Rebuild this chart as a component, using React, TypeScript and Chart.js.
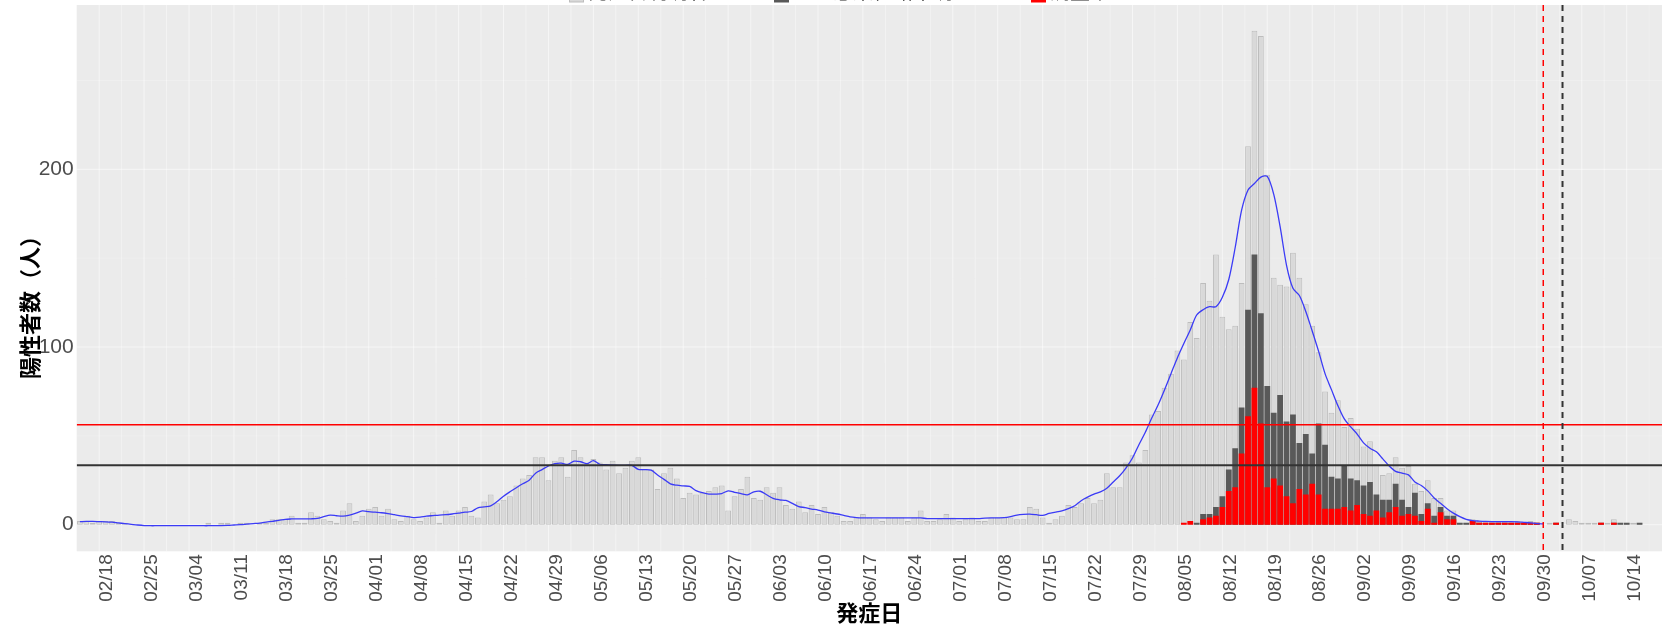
import React, { useEffect, useRef } from 'react';
import { Chart, registerables } from 'chart.js';

Chart.register(...registerables);

// ---- categories: one bar per onset day, 2021-02-15 .. 2021-10-19 ----
const firstDay = '2021-02-15';
const dayCount = 247;
const dayLabels: string[] = (() => {
  const out: string[] = [];
  const d0 = new Date(firstDay + 'T00:00:00Z');
  for (let i = 0; i < dayCount; i++) {
    const d = new Date(d0.getTime() + i * 86400000);
    out.push(String(d.getUTCMonth() + 1).padStart(2, '0') + '/' + String(d.getUTCDate()).padStart(2, '0'));
  }
  return out;
})();

// weekly tick labels on the x axis
const xTickLabels = ['02/18', '02/25', '03/04', '03/11', '03/18', '03/25', '04/01', '04/08', '04/15', '04/22', '04/29', '05/06', '05/13', '05/20', '05/27', '06/03', '06/10', '06/17', '06/24', '07/01', '07/08', '07/15', '07/22', '07/29', '08/05', '08/12', '08/19', '08/26', '09/02', '09/09', '09/16', '09/23', '09/30', '10/07', '10/14'];
const yTickValues = [0, 100, 200];
const yMinorValues = [50, 150, 250];

// ---- total positives by onset day (light grey) ----
const totalCases = [
  2, 2, 1, 2, 2, 2, 1,
  1, 0, 0, 0, 0, 0, 0,
  0, 0, 0, 0, 0, 0, 1,
  0, 1, 1, 0, 1, 1, 0,
  1, 1, 3, 3, 3, 5, 1,
  1, 7, 5, 3, 2, 1, 8,
  12, 2, 5, 9, 10, 5, 9,
  3, 2, 5, 3, 2, 4, 7,
  1, 8, 5, 8, 10, 5, 4,
  13, 17, 12, 14, 16, 22, 26,
  28, 38, 38, 25, 36, 38, 27,
  42, 38, 34, 37, 35, 31, 36,
  29, 32, 36, 38, 31, 31, 20,
  29, 32, 26, 15, 18, 17, 18,
  19, 21, 22, 8, 16, 20, 27,
  15, 14, 21, 18, 21, 11, 9,
  13, 7, 11, 6, 10, 7, 5,
  2, 2, 4, 6, 4, 3, 2,
  4, 4, 4, 2, 4, 8, 2,
  2, 3, 6, 4, 2, 3, 4,
  2, 2, 4, 4, 4, 4, 3,
  3, 10, 9, 4, 1, 3, 5,
  11, 10, 12, 15, 12, 14, 29,
  21, 21, 35, 39, 35, 42, 62,
  64, 77, 85, 98, 93, 114, 105,
  136, 126, 152, 117, 110, 112, 136,
  213, 278, 275, 197, 139, 135, 134,
  153, 139, 124, 112, 97, 75, 63,
  70, 55, 60, 54, 44, 47, 34,
  28, 29, 38, 32, 33, 23, 19,
  25, 15, 15, 8, 8, 1, 1,
  3, 2, 1, 1, 2, 2, 1,
  2, 1, 2, 1, 0, 1, 1,
  0, 3, 2, 1, 1, 1, 1,
  1, 3, 1, 1, 1, 1, 0,
  0, 0,
];

// ---- subsets, starting at 08/06 ----
const subsetStart = '08/06';
const darkCases = [
  0, 0, 1, 6, 6, 10, 16,
  31, 43, 66, 121, 152, 119, 78,
  63, 73, 58, 62, 46, 51, 40,
  57, 45, 27, 26, 33, 26, 25,
  22, 24, 17, 14, 14, 23, 14,
  10, 18, 6, 12, 5, 10, 5,
  5, 1, 1, 2, 1, 1, 1,
  1, 1, 1, 1, 1, 1, 1,
  0, 0, 1, 0, 0, 0, 0,
  0, 0, 1, 0, 1, 1, 1,
  0, 1, 0, 0, 0,
];
const redCases = [
  1, 2, 0, 3, 4, 5, 10,
  19, 21, 40, 61, 77, 57, 21,
  26, 22, 16, 12, 20, 17, 23,
  17, 9, 9, 9, 10, 8, 11,
  6, 5, 8, 4, 7, 10, 5,
  6, 5, 2, 9, 1, 7, 3,
  3, 0, 0, 2, 1, 1, 1,
  1, 1, 1, 1, 1, 1, 1,
  0, 0, 1, 0, 0, 0, 0,
  0, 0, 1, 0, 1, 0, 0,
  0, 0, 0, 0, 0,
];

// ---- smoothed trend (blue), ends 10/01 ----
const trendLine = [
  1.7, 1.8, 1.8, 1.7, 1.6, 1.4, 1.0, 0.6, 0.2, -0.2,
  -0.5, -0.6, -0.6, -0.6, -0.6, -0.6, -0.6, -0.6, -0.6, -0.6,
  -0.6, -0.5, -0.5, -0.4, -0.2, 0, 0.3, 0.6, 0.9, 1.4,
  1.9, 2.4, 3.0, 3.2, 3.3, 3.3, 3.3, 3.5, 4.5, 5.4,
  5.0, 4.8, 5.4, 6.5, 7.7, 7.3, 7.0, 6.7, 6.2, 5.6,
  5.0, 4.5, 4.0, 4.2, 4.8, 5.1, 5.4, 5.6, 6.0, 6.5,
  7.0, 7.4, 9.5, 10.0, 10.6, 13, 16, 18.5, 20.8, 23,
  25, 29, 31, 33, 34.3, 34.6, 33.9, 35.7, 35.4, 34.3,
  36, 34, 33.8, 33.5, 33.4, 33.4, 33.4, 31.1, 31, 30.7,
  28, 25.5, 23, 22.2, 21.8, 21.5, 19.2, 18, 17.2, 17.2,
  17.5, 19, 18.2, 17.5, 16.8, 18.5, 18.8, 16.8, 14.8, 14,
  13.6, 12, 10.2, 9.6, 8.8, 8.2, 7.2, 6.6, 6, 5.2,
  4.4, 4.0, 3.8, 3.8, 3.8, 3.8, 3.8, 3.8, 3.8, 3.8,
  3.8, 3.8, 3.4, 3.4, 3.4, 3.4, 3.4, 3.4, 3.4, 3.4,
  3.4, 3.7, 3.8, 3.8, 3.9, 4.5, 5.4, 5.8, 5.9, 5.6,
  5.2, 6.3, 7.0, 7.8, 9.0, 10.6, 13.5, 15.5, 17.2, 18.5,
  20.5, 24, 27.5, 32, 37.5, 45, 52, 60, 67.5, 76,
  85, 94, 102, 109.6, 118, 121, 122.7, 122.7, 128, 138,
  156, 177, 188.4, 192, 195.6, 196, 186, 167.7, 146, 133,
  129, 120, 109, 97.5, 85, 76, 67, 59.5, 55, 51,
  46, 43, 41, 37, 33, 30, 29, 28, 24, 22,
  19, 15, 12, 9, 6.5, 4.5, 3, 2.3, 2, 1.8,
  1.7, 1.7, 1.7, 1.7, 1.6, 1.3, 1.0, 0.6, 0.4,
];

// reference lines
const redThreshold = 56.3;
const blackThreshold = 33.4;
const redDashedDay = '10/01';
const blackDashedDay = '10/04';

const legendItems = [
  { text: '発症日判明者', fill: '#D9D9D9', stroke: '#BDBDBD' },
  { text: 'うち感染経路不明', fill: '#595959', stroke: '#595959' },
  { text: '調査中', fill: '#FF0000', stroke: '#FF0000' },
];
const yTitle = '陽性者数（人）';
const xTitle = '発症日';

const LATIN = "'Liberation Sans', Arial, sans-serif";
const CJK = "'Noto Sans CJK JP', 'Noto Sans', sans-serif";

function padSubset(values: number[]): (number | null)[] {
  const start = dayLabels.indexOf(subsetStart);
  const out: (number | null)[] = dayLabels.map(() => null);
  values.forEach((v, i) => { out[start + i] = v; });
  return out;
}

function noScalePadding(s: any) {
  s.paddingTop = 0;
  s.paddingBottom = 0;
  s.paddingLeft = 0;
  s.paddingRight = 0;
}

export default function App() {
  const ref = useRef<HTMLCanvasElement | null>(null);

  useEffect(() => {
    const canvas = ref.current;
    if (!canvas) return;

    const panelPlugin = {
      id: 'panelPlugin',
      beforeDraw(chart: any) {
        const { ctx, chartArea: a, scales } = chart;
        ctx.save();
        ctx.fillStyle = '#EBEBEB';
        ctx.fillRect(a.left, a.top, a.right - a.left, a.bottom - a.top);
        const xs = scales.x;
        const ys = scales.y;
        // minor grid
        ctx.strokeStyle = 'rgba(255,255,255,0.35)';
        ctx.lineWidth = 0.6;
        ctx.beginPath();
        yMinorValues.forEach((v) => {
          const y = ys.getPixelForValue(v);
          ctx.moveTo(a.left, y); ctx.lineTo(a.right, y);
        });
        xTickLabels.forEach((lab) => {
          const idx = dayLabels.indexOf(lab);
          [idx - 3.5, idx + 3.5].forEach((p) => {
            const x = xs.getPixelForValue(p);
            if (x > a.left && x < a.right) { ctx.moveTo(x, a.top); ctx.lineTo(x, a.bottom); }
          });
        });
        ctx.stroke();
        // major grid
        ctx.strokeStyle = 'rgba(255,255,255,0.55)';
        ctx.lineWidth = 1;
        ctx.beginPath();
        yTickValues.forEach((v) => {
          const y = ys.getPixelForValue(v);
          ctx.moveTo(a.left, y); ctx.lineTo(a.right, y);
        });
        xTickLabels.forEach((lab) => {
          const x = xs.getPixelForValue(dayLabels.indexOf(lab));
          ctx.moveTo(x, a.top); ctx.lineTo(x, a.bottom);
        });
        ctx.stroke();
        ctx.restore();
      },
      afterDatasetsDraw(chart: any) {
        const { ctx, chartArea: a, scales } = chart;
        const xs = scales.x;
        const ys = scales.y;
        ctx.save();
        ctx.beginPath();
        ctx.rect(a.left, a.top, a.right - a.left, a.bottom - a.top);
        ctx.clip();
        // horizontal thresholds
        ctx.strokeStyle = '#FF0000';
        ctx.lineWidth = 1.5;
        let y = ys.getPixelForValue(redThreshold);
        ctx.beginPath(); ctx.moveTo(a.left, y); ctx.lineTo(a.right, y); ctx.stroke();
        ctx.strokeStyle = '#333333';
        ctx.lineWidth = 2;
        y = ys.getPixelForValue(blackThreshold);
        ctx.beginPath(); ctx.moveTo(a.left, y); ctx.lineTo(a.right, y); ctx.stroke();
        // vertical dashed
        ctx.setLineDash([6, 5]);
        ctx.strokeStyle = '#FF0000';
        ctx.lineWidth = 1.5;
        let x = xs.getPixelForValue(dayLabels.indexOf(redDashedDay));
        ctx.beginPath(); ctx.moveTo(x, a.top); ctx.lineTo(x, a.bottom); ctx.stroke();
        ctx.strokeStyle = '#333333';
        ctx.lineWidth = 2;
        x = xs.getPixelForValue(dayLabels.indexOf(blackDashedDay));
        ctx.beginPath(); ctx.moveTo(x, a.top); ctx.lineTo(x, a.bottom); ctx.stroke();
        ctx.restore();
      },
      afterDraw(chart: any) {
        const { ctx, chartArea: a } = chart;
        ctx.save();
        // axis titles
        ctx.fillStyle = '#000000';
        ctx.font = `bold 22px ${CJK}`;
        ctx.textAlign = 'center';
        ctx.textBaseline = 'middle';
        ctx.fillText(xTitle, (a.left + a.right) / 2, 613);
        ctx.translate(30, 302);
        ctx.rotate(-Math.PI / 2);
        ctx.fillText(yTitle, 0, 0);
        ctx.restore();
        // legend (mostly above the visible area)
        ctx.save();
        const starts = [569, 774, 1031];
        ctx.font = `20px ${CJK}`;
        ctx.textAlign = 'left';
        ctx.textBaseline = 'alphabetic';
        legendItems.forEach((it, i) => {
          const x0 = starts[i];
          ctx.fillStyle = it.fill;
          ctx.fillRect(x0, -17, 15, 19);
          ctx.strokeStyle = it.stroke;
          ctx.lineWidth = 1;
          ctx.strokeRect(x0 + 0.5, -17, 14, 19);
          ctx.fillStyle = '#1A1A1A';
          ctx.fillText(it.text, x0 + 19, -1.5);
        });
        ctx.restore();
      },
    };

    const chart = new Chart(canvas, {
      type: 'bar',
      data: {
        labels: dayLabels,
        datasets: [
          {
            type: 'line',
            label: 'trend',
            data: trendLine,
            borderColor: '#3B3BF6',
            borderWidth: 1.3,
            pointRadius: 0,
            tension: 0.3,
            order: 0,
          } as any,
          {
            type: 'bar',
            label: legendItems[2].text,
            data: padSubset(redCases),
            backgroundColor: '#FF0000',
            borderWidth: 0,
            grouped: false,
            barPercentage: 0.9,
            categoryPercentage: 1,
            order: 1,
          } as any,
          {
            type: 'bar',
            label: legendItems[1].text,
            data: padSubset(darkCases),
            backgroundColor: '#595959',
            borderWidth: 0,
            grouped: false,
            barPercentage: 0.9,
            categoryPercentage: 1,
            order: 2,
          } as any,
          {
            type: 'bar',
            label: legendItems[0].text,
            data: totalCases,
            backgroundColor: '#D9D9D9',
            borderColor: '#BDBDBD',
            borderWidth: 1,
            borderSkipped: false,
            grouped: false,
            barPercentage: 0.9,
            categoryPercentage: 1,
            order: 3,
          } as any,
        ],
      },
      options: {
        responsive: false,
        maintainAspectRatio: false,
        devicePixelRatio: 1,
        animation: false,
        events: [],
        layout: { padding: { top: 5, right: 5, left: 0, bottom: 0 } },
        plugins: { legend: { display: false }, tooltip: { enabled: false } },
        scales: {
          x: {
            type: 'category',
            offset: true,
            grid: { display: false, drawTicks: false },
            border: { display: false },
            ticks: {
              autoSkip: false,
              minRotation: 90,
              maxRotation: 90,
              padding: 3,
              labelOffset: 8,
              color: '#4D4D4D',
              font: { family: LATIN, size: 19 },
              callback: (_v: any, i: number) => (xTickLabels.includes(dayLabels[i]) ? dayLabels[i] : ''),
            },
            afterFit: (s: any) => { s.height = 72.7; noScalePadding(s); },
          },
          y: {
            type: 'linear',
            min: -15,
            max: 292.5,
            grid: { display: false, drawTicks: false },
            border: { display: false },
            afterBuildTicks: (s: any) => { s.ticks = yTickValues.map((v) => ({ value: v })); },
            ticks: {
              padding: 3,
              color: '#4D4D4D',
              font: { family: LATIN, size: 21 },
              callback: (v: any) => String(v),
            },
            afterFit: (s: any) => { s.width = 76.7; noScalePadding(s); },
          },
        },
      } as any,
      plugins: [panelPlugin],
    });

    return () => { chart.destroy(); };
  }, []);

  return (
    <div style={{ position: 'fixed', left: 0, top: 0, width: 1667, height: 624, background: '#ffffff', overflow: 'hidden' }}>
      <canvas ref={ref} width={1667} height={624} style={{ display: 'block', width: 1667, height: 624 }} />
    </div>
  );
}
